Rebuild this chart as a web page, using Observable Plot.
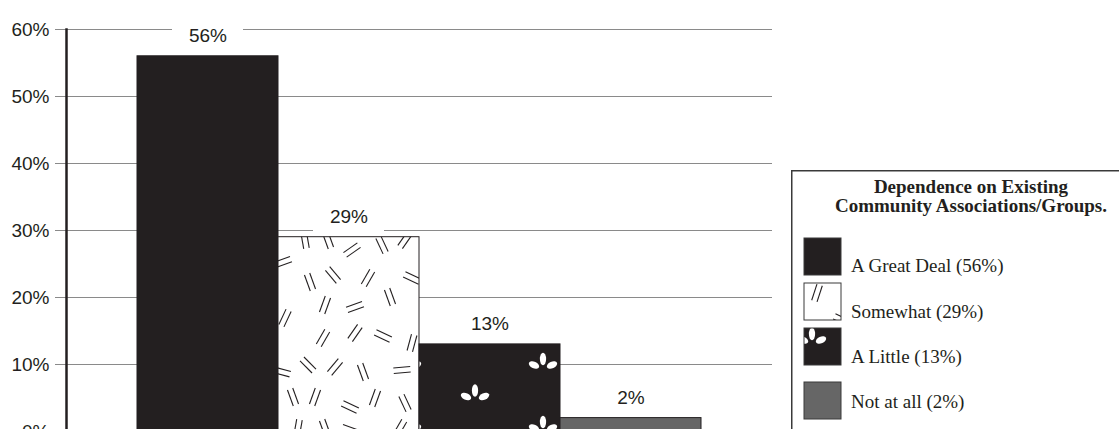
<!DOCTYPE html>
<html><head><meta charset="utf-8">
<script src="https://cdn.jsdelivr.net/npm/d3@7"></script>
<script src="https://cdn.jsdelivr.net/npm/@observablehq/plot@0.6"></script>
<style>
html,body{margin:0;padding:0;background:#fff;overflow:hidden;}
#wrap{position:relative;width:1119px;height:429px;overflow:hidden;}
#wrap svg.plot{position:absolute;left:0;top:0;}
#legend{position:absolute;left:791px;top:170px;}
</style></head><body>
<div id="wrap"></div>
<script>
// ---- data ----
const categories = ["A Great Deal", "Somewhat", "A Little", "Not at all"];
const values = [56, 29, 13, 2];
const fills = ["#231f20", "url(#hatch)", "url(#flowers)", "#666666"];
const yTicks = [0, 10, 20, 30, 40, 50, 60];
const legendTitle = ["Dependence on Existing", "Community Associations/Groups."];

// ---- texture design (decoration, not data) ----
const hatchMarks = [
  [352,250,-35],[382,245,65],[283,262,-20],[310,282,70],[333,275,50],[368,278,-60],[412,278,25],
  [325,305,-70],[355,307,-20],[390,297,70],[285,318,-65],[323,338,-60],[355,333,-55],[383,336,25],
  [412,343,-75],[308,365,45],[335,367,-50],[363,372,70],[402,370,-5],[282,372,15],[293,397,70],
  [315,397,-70],[350,407,25],[375,398,-70],[405,403,65],[305,240,80],[328,240,70],[405,240,-55],
  [298,428,-80],[325,428,70],[400,428,-60],[350,430,20]
];
const dark = "#231f20";

function drawPair(g, x, y, a) {
  const p = g.append("g").attr("transform", `translate(${x},${y}) rotate(${a})`)
    .attr("stroke", dark).attr("stroke-width", 1.1).attr("fill", "none");
  p.append("line").attr("x1", -8.5).attr("y1", -2.8).attr("x2", 8.5).attr("y2", -2.8);
  p.append("line").attr("x1", -8.5).attr("y1", 2.8).attr("x2", 8.5).attr("y2", 2.8);
}
function drawFlower(g, x, y) {
  const f = g.append("g").attr("transform", `translate(${x},${y}) scale(1.2)`).attr("fill", "#fff");
  f.append("ellipse").attr("cx", 0).attr("cy", -2.5).attr("rx", 2.6).attr("ry", 5.2);
  f.append("ellipse").attr("cx", -7.5).attr("cy", 2.5).attr("rx", 4.6).attr("ry", 2.7).attr("transform", "rotate(25,-7.5,2.5)");
  f.append("ellipse").attr("cx", 7.5).attr("cy", 2.5).attr("rx", 4.6).attr("ry", 2.7).attr("transform", "rotate(-25,7.5,2.5)");
}

// pattern defs
const defsSvg = d3.select("body").append("svg").attr("width", 0).attr("height", 0)
  .style("position", "absolute").style("left", 0).style("top", 0);
const defs = defsSvg.append("defs");
const hatch = defs.append("pattern").attr("id", "hatch").attr("patternUnits", "userSpaceOnUse")
  .attr("x", 0).attr("y", 0).attr("width", 1119).attr("height", 470);
hatch.append("rect").attr("width", 1119).attr("height", 470).attr("fill", "#fff");
hatchMarks.forEach(([x, y, a]) => drawPair(hatch, x, y, a));
const flowers = defs.append("pattern").attr("id", "flowers").attr("patternUnits", "userSpaceOnUse")
  .attr("x", 441).attr("y", 346).attr("width", 136).attr("height", 63);
flowers.append("rect").attr("width", 136).attr("height", 63).attr("fill", dark);
drawFlower(flowers, 102, 16);
drawFlower(flowers, 34, 47.5);

// ---- chart ----
const data = categories.map((c, i) => ({category: c, value: values[i], fill: fills[i]}));
const chart = Plot.plot({
  width: 1119, height: 470,
  marginLeft: 66, marginRight: 347, marginTop: 29, marginBottom: 39,
  style: {fontFamily: "'Liberation Sans', Arial, sans-serif", color: dark, background: "transparent", overflow: "visible"},
  x: {domain: categories, paddingInner: 0, paddingOuter: 0.5, axis: null},
  y: {domain: [0, 60], axis: null},
  color: {type: "identity"},
  marks: [
    Plot.ruleY(yTicks, {stroke: "#8a8a8a", strokeWidth: 1}),
    Plot.axisY(yTicks, {label: null, tickSize: 11, tickPadding: 6, tickFormat: d => d + "%", fontSize: 19, stroke: "#8a8a8a"}),
    Plot.frame({anchor: "left", stroke: dark, strokeWidth: 2.5}),
    Plot.barY(data, {x: "category", y1: "value", y2: "value", insetTop: -32, insetLeft: 35, insetRight: 35, fill: "#fff"}),
    Plot.barY(data, {x: "category", y: "value", fill: d => d.fill, stroke: dark, strokeWidth: 1}),
    Plot.text(data, {x: "category", y: "value", text: d => d.value + "%", dy: -20, fontSize: 19, fill: dark})
  ]
});
chart.classList.add("plot");
document.getElementById("wrap").appendChild(chart);

// ---- legend ----
const swatchY = [68, 113, 158, 212];
const labelY = [102, 148, 193, 238];
const lg = d3.select("#wrap").append("svg").attr("id", "legend").attr("width", 330).attr("height", 260)
  .style("font-family", "'Liberation Serif', 'Times New Roman', serif").style("font-size", "19px");
lg.append("path").attr("d", "M0.75,260V0.75H330").attr("fill", "none").attr("stroke", "#3a3a3a").attr("stroke-width", 1.5);
lg.append("text").attr("text-anchor", "middle").attr("x", 180).attr("font-weight", "bold").attr("fill", dark)
  .selectAll("tspan").data(legendTitle).join("tspan").attr("x", 180).attr("y", (d, i) => 23 + i * 19).text(d => d);
const ldefs = lg.append("defs");
categories.forEach((c, i) => {
  ldefs.append("clipPath").attr("id", "lclip" + i).append("rect")
    .attr("x", 13).attr("y", swatchY[i]).attr("width", 37).attr("height", 37);
  const g = lg.append("g");
  const inner = g.append("g").attr("clip-path", `url(#lclip${i})`);
  const base = i === 1 ? "#fff" : (i === 2 ? dark : fills[i]);
  inner.append("rect").attr("x", 13).attr("y", swatchY[i]).attr("width", 37).attr("height", 37).attr("fill", base);
  if (i === 1) { drawPair(inner, 26, swatchY[i] + 10, -72); drawPair(inner, 51, swatchY[i] + 37, 25); }
  if (i === 2) { drawFlower(inner, 21, swatchY[i] + 9); }
  g.append("rect").attr("x", 13).attr("y", swatchY[i]).attr("width", 37).attr("height", 37)
    .attr("fill", "none").attr("stroke", "#3a3a3a").attr("stroke-width", 1);
  lg.append("text").attr("x", 60).attr("y", labelY[i]).attr("fill", dark).text(`${c} (${values[i]}%)`);
});
</script>
</body></html>
